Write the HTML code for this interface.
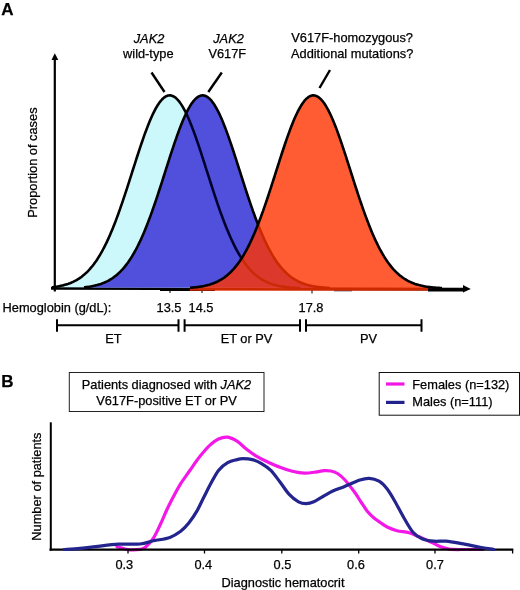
<!DOCTYPE html>
<html><head><meta charset="utf-8"><title>Figure</title>
<style>
html,body{margin:0;padding:0;background:#fff;}
svg{display:block;}
text{font-family:"Liberation Sans",Arial,Helvetica,sans-serif;font-size:12.8px;fill:#000;stroke:#000;stroke-width:0.25px;}
.c{text-anchor:middle;}
.b{font-weight:bold;font-size:17px;}
.i{font-style:italic;}
</style></head>
<body>
<svg width="520" height="590" viewBox="0 0 520 590">
<rect width="520" height="590" fill="#fff"/>
<!-- Panel A -->
<text class="b" x="1.3" y="15.3">A</text>
<!-- axes -->
<line x1="54.8" y1="58" x2="54.8" y2="291.5" stroke="#000" stroke-width="2.2"/>
<polygon points="54.8,53.3 51.5,60 58.3,60" fill="#000"/>
<line x1="51" y1="288.3" x2="464" y2="289.2" stroke="#000" stroke-width="3"/>
<polygon points="470.8,288.9 463,285.1 463,292.600" fill="#000"/>
<text class="c" transform="translate(36.6,162.6) rotate(-90)">Proportion of cases</text>
<!-- curves -->
<path d="M52.0,287.3 L53.0,287.2 L54.0,287.0 L55.0,286.9 L56.0,286.7 L57.0,286.6 L58.0,286.4 L59.0,286.2 L60.0,286.0 L61.0,285.8 L62.0,285.6 L63.0,285.4 L64.0,285.1 L65.0,284.8 L66.0,284.5 L67.0,284.2 L68.0,283.9 L69.0,283.5 L70.0,283.2 L71.0,282.8 L72.0,282.3 L73.0,281.9 L74.0,281.4 L75.0,280.9 L76.0,280.4 L77.0,279.8 L78.0,279.2 L79.0,278.6 L80.0,277.9 L81.0,277.2 L82.0,276.4 L83.0,275.6 L84.0,274.8 L85.0,273.9 L86.0,273.0 L87.0,272.1 L88.0,271.1 L89.0,270.0 L90.0,268.9 L91.0,267.7 L92.0,266.5 L93.0,265.3 L94.0,264.0 L95.0,262.6 L96.0,261.2 L97.0,259.7 L98.0,258.1 L99.0,256.5 L100.0,254.9 L101.0,253.2 L102.0,251.4 L103.0,249.5 L104.0,247.6 L105.0,245.7 L106.0,243.7 L107.0,241.6 L108.0,239.4 L109.0,237.2 L110.0,234.9 L111.0,232.6 L112.0,230.2 L113.0,227.8 L114.0,225.2 L115.0,222.7 L116.0,220.1 L117.0,217.4 L118.0,214.7 L119.0,211.9 L120.0,209.1 L121.0,206.2 L122.0,203.3 L123.0,200.4 L124.0,197.4 L125.0,194.4 L126.0,191.3 L127.0,188.3 L128.0,185.2 L129.0,182.1 L130.0,178.9 L131.0,175.8 L132.0,172.7 L133.0,169.5 L134.0,166.4 L135.0,163.3 L136.0,160.1 L137.0,157.0 L138.0,154.0 L139.0,150.9 L140.0,147.9 L141.0,144.9 L142.0,142.0 L143.0,139.1 L144.0,136.2 L145.0,133.4 L146.0,130.7 L147.0,128.1 L148.0,125.5 L149.0,123.0 L150.0,120.6 L151.0,118.2 L152.0,116.0 L153.0,113.8 L154.0,111.8 L155.0,109.8 L156.0,108.0 L157.0,106.3 L158.0,104.7 L159.0,103.2 L160.0,101.8 L161.0,100.6 L162.0,99.5 L163.0,98.5 L164.0,97.6 L165.0,96.9 L166.0,96.3 L167.0,95.9 L168.0,95.6 L169.0,95.4 L170.0,95.4 L171.0,95.5 L172.0,95.8 L173.0,96.2 L174.0,96.7 L175.0,97.3 L176.0,98.1 L177.0,99.1 L178.0,100.1 L179.0,101.3 L180.0,102.6 L181.0,104.1 L182.0,105.6 L183.0,107.3 L184.0,109.1 L185.0,111.0 L186.0,113.0 L187.0,115.1 L188.0,117.3 L189.0,119.6 L190.0,122.0 L191.0,124.5 L192.0,127.0 L193.0,129.6 L194.0,132.3 L195.0,135.1 L196.0,137.9 L197.0,140.8 L198.0,143.7 L199.0,146.7 L200.0,149.7 L201.0,152.7 L202.0,155.8 L203.0,158.9 L204.0,162.0 L205.0,165.1 L206.0,168.3 L207.0,171.4 L208.0,174.6 L209.0,177.7 L210.0,180.8 L211.0,183.9 L212.0,187.0 L213.0,190.1 L214.0,193.2 L215.0,196.2 L216.0,199.2 L217.0,202.1 L218.0,205.1 L219.0,207.9 L220.0,210.8 L221.0,213.6 L222.0,216.3 L223.0,219.0 L224.0,221.6 L225.0,224.2 L226.0,226.8 L227.0,229.2 L228.0,231.6 L229.0,234.0 L230.0,236.3 L231.0,238.5 L232.0,240.7 L233.0,242.8 L234.0,244.9 L235.0,246.9 L236.0,248.8 L237.0,250.7 L238.0,252.5 L239.0,254.2 L240.0,255.9 L241.0,257.5 L242.0,259.1 L243.0,260.6 L244.0,262.0 L245.0,263.4 L246.0,264.8 L247.0,266.0 L248.0,267.3 L249.0,268.4 L250.0,269.6 L251.0,270.6 L252.0,271.7 L253.0,272.6 L254.0,273.6 L255.0,274.5 L256.0,275.3 L257.0,276.1 L258.0,276.9 L259.0,277.6 L260.0,278.3 L261.0,278.9 L262.0,279.6 L263.0,280.1 L264.0,280.7 L265.0,281.2 L266.0,281.7 L267.0,282.2 L268.0,282.6 L269.0,283.0 L270.0,283.4 L271.0,283.8 L272.0,284.1 L273.0,284.4 L274.0,284.7 L275.0,285.0 L276.0,285.3 L277.0,285.5 L278.0,285.7 L279.0,286.0 L280.0,286.2 L281.0,286.3 L282.0,286.5 L283.0,286.7 L284.0,286.8 L285.0,287.0 L286.0,287.1 L287.0,287.2 L288.0,287.3 L289.0,287.4 L290.0,287.5 L291.0,287.6 L292.0,287.7 L293.0,287.8 L294.0,287.9 L295.0,287.9 L296.0,288.0 L297.0,288.0 L298.0,288.1 L299.0,288.1 L300.0,288.2" fill="#ccf8fc" stroke="#000" stroke-width="2.6" stroke-linejoin="round"/>
<path d="M84.0,287.4 L85.0,287.3 L86.0,287.1 L87.0,287.0 L88.0,286.9 L89.0,286.7 L90.0,286.6 L91.0,286.4 L92.0,286.2 L93.0,286.0 L94.0,285.8 L95.0,285.6 L96.0,285.3 L97.0,285.1 L98.0,284.8 L99.0,284.5 L100.0,284.2 L101.0,283.9 L102.0,283.5 L103.0,283.1 L104.0,282.7 L105.0,282.3 L106.0,281.8 L107.0,281.4 L108.0,280.9 L109.0,280.3 L110.0,279.7 L111.0,279.1 L112.0,278.5 L113.0,277.8 L114.0,277.1 L115.0,276.3 L116.0,275.6 L117.0,274.7 L118.0,273.8 L119.0,272.9 L120.0,272.0 L121.0,270.9 L122.0,269.9 L123.0,268.8 L124.0,267.6 L125.0,266.4 L126.0,265.1 L127.0,263.8 L128.0,262.5 L129.0,261.0 L130.0,259.5 L131.0,258.0 L132.0,256.4 L133.0,254.7 L134.0,253.0 L135.0,251.2 L136.0,249.4 L137.0,247.5 L138.0,245.5 L139.0,243.4 L140.0,241.4 L141.0,239.2 L142.0,237.0 L143.0,234.7 L144.0,232.4 L145.0,230.0 L146.0,227.5 L147.0,225.0 L148.0,222.4 L149.0,219.8 L150.0,217.1 L151.0,214.4 L152.0,211.6 L153.0,208.8 L154.0,205.9 L155.0,203.0 L156.0,200.1 L157.0,197.1 L158.0,194.1 L159.0,191.0 L160.0,188.0 L161.0,184.9 L162.0,181.8 L163.0,178.6 L164.0,175.5 L165.0,172.4 L166.0,169.2 L167.0,166.1 L168.0,163.0 L169.0,159.8 L170.0,156.7 L171.0,153.7 L172.0,150.6 L173.0,147.6 L174.0,144.6 L175.0,141.7 L176.0,138.8 L177.0,135.9 L178.0,133.2 L179.0,130.4 L180.0,127.8 L181.0,125.2 L182.0,122.7 L183.0,120.3 L184.0,118.0 L185.0,115.8 L186.0,113.6 L187.0,111.6 L188.0,109.6 L189.0,107.8 L190.0,106.1 L191.0,104.5 L192.0,103.0 L193.0,101.7 L194.0,100.5 L195.0,99.4 L196.0,98.4 L197.0,97.6 L198.0,96.9 L199.0,96.3 L200.0,95.9 L201.0,95.6 L202.0,95.4 L203.0,95.4 L204.0,95.5 L205.0,95.8 L206.0,96.2 L207.0,96.7 L208.0,97.4 L209.0,98.2 L210.0,99.2 L211.0,100.2 L212.0,101.4 L213.0,102.8 L214.0,104.2 L215.0,105.8 L216.0,107.5 L217.0,109.3 L218.0,111.2 L219.0,113.2 L220.0,115.3 L221.0,117.5 L222.0,119.8 L223.0,122.2 L224.0,124.7 L225.0,127.3 L226.0,129.9 L227.0,132.6 L228.0,135.4 L229.0,138.2 L230.0,141.1 L231.0,144.0 L232.0,147.0 L233.0,150.0 L234.0,153.0 L235.0,156.1 L236.0,159.2 L237.0,162.3 L238.0,165.5 L239.0,168.6 L240.0,171.7 L241.0,174.9 L242.0,178.0 L243.0,181.1 L244.0,184.2 L245.0,187.3 L246.0,190.4 L247.0,193.5 L248.0,196.5 L249.0,199.5 L250.0,202.4 L251.0,205.3 L252.0,208.2 L253.0,211.1 L254.0,213.8 L255.0,216.6 L256.0,219.3 L257.0,221.9 L258.0,224.5 L259.0,227.0 L260.0,229.5 L261.0,231.9 L262.0,234.2 L263.0,236.5 L264.0,238.8 L265.0,240.9 L266.0,243.0 L267.0,245.1 L268.0,247.1 L269.0,249.0 L270.0,250.8 L271.0,252.6 L272.0,254.4 L273.0,256.1 L274.0,257.7 L275.0,259.2 L276.0,260.7 L277.0,262.2 L278.0,263.6 L279.0,264.9 L280.0,266.2 L281.0,267.4 L282.0,268.6 L283.0,269.7 L284.0,270.7 L285.0,271.8 L286.0,272.7 L287.0,273.7 L288.0,274.5 L289.0,275.4 L290.0,276.2 L291.0,276.9 L292.0,277.7 L293.0,278.4 L294.0,279.0 L295.0,279.6 L296.0,280.2 L297.0,280.7 L298.0,281.3 L299.0,281.8 L300.0,282.2 L301.0,282.6 L302.0,283.1 L303.0,283.4 L304.0,283.8 L305.0,284.1 L306.0,284.5 L307.0,284.8 L308.0,285.0 L309.0,285.3 L310.0,285.5 L311.0,285.8 L312.0,286.0 L313.0,286.2 L314.0,286.4 L315.0,286.5 L316.0,286.7 L317.0,286.8 L318.0,287.0 L319.0,287.1 L320.0,287.2 L321.0,287.3 L322.0,287.4 L323.0,287.5 L324.0,287.6 L325.0,287.7 L326.0,287.8 L327.0,287.9 L328.0,287.9 L329.0,288.0 L330.0,288.0" fill="#5050dc" stroke="none"/>
<path d="M186.0,113.0 L187.0,115.1 L188.0,117.3 L189.0,119.6 L190.0,122.0 L191.0,124.5 L192.0,127.0 L193.0,129.6 L194.0,132.3 L195.0,135.1 L196.0,137.9 L197.0,140.8 L198.0,143.7 L199.0,146.7 L200.0,149.7 L201.0,152.7 L202.0,155.8 L203.0,158.9 L204.0,162.0 L205.0,165.1 L206.0,168.3 L207.0,171.4 L208.0,174.6 L209.0,177.7 L210.0,180.8 L211.0,183.9 L212.0,187.0 L213.0,190.1 L214.0,193.2 L215.0,196.2 L216.0,199.2 L217.0,202.1 L218.0,205.1 L219.0,207.9 L220.0,210.8 L221.0,213.6 L222.0,216.3 L223.0,219.0 L224.0,221.6 L225.0,224.2 L226.0,226.8 L227.0,229.2 L228.0,231.6 L229.0,234.0 L230.0,236.3 L231.0,238.5 L232.0,240.7 L233.0,242.8 L234.0,244.9 L235.0,246.9 L236.0,248.8 L237.0,250.7 L238.0,252.5 L239.0,254.2 L240.0,255.9 L241.0,257.5 L242.0,259.1 L243.0,260.6 L244.0,262.0 L245.0,263.4 L246.0,264.8 L247.0,266.0 L248.0,267.3 L249.0,268.4 L250.0,269.6 L251.0,270.6 L252.0,271.7 L253.0,272.6 L254.0,273.6 L255.0,274.5 L256.0,275.3 L257.0,276.1 L258.0,276.9 L259.0,277.6 L260.0,278.3 L261.0,278.9 L262.0,279.6 L263.0,280.1 L264.0,280.7 L265.0,281.2 L266.0,281.7 L267.0,282.2 L268.0,282.6 L269.0,283.0 L270.0,283.4 L271.0,283.8 L272.0,284.1 L273.0,284.4 L274.0,284.7 L275.0,285.0 L276.0,285.3 L277.0,285.5 L278.0,285.7 L279.0,286.0 L280.0,286.2 L281.0,286.3 L282.0,286.5 L283.0,286.7 L284.0,286.8 L285.0,287.0 L286.0,287.1 L287.0,287.2 L288.0,287.3 L289.0,287.4 L290.0,287.5 L291.0,287.6 L292.0,287.7 L293.0,287.8 L294.0,287.9 L295.0,287.9 L296.0,288.0 L297.0,288.0 L298.0,288.1 L299.0,288.1 L300.0,288.2" fill="none" stroke="#00002c" stroke-width="2.6"/>
<path d="M84.0,287.4 L85.0,287.3 L86.0,287.1 L87.0,287.0 L88.0,286.9 L89.0,286.7 L90.0,286.6 L91.0,286.4 L92.0,286.2 L93.0,286.0 L94.0,285.8 L95.0,285.6 L96.0,285.3 L97.0,285.1 L98.0,284.8 L99.0,284.5 L100.0,284.2 L101.0,283.9 L102.0,283.5 L103.0,283.1 L104.0,282.7 L105.0,282.3 L106.0,281.8 L107.0,281.4 L108.0,280.9 L109.0,280.3 L110.0,279.7 L111.0,279.1 L112.0,278.5 L113.0,277.8 L114.0,277.1 L115.0,276.3 L116.0,275.6 L117.0,274.7 L118.0,273.8 L119.0,272.9 L120.0,272.0 L121.0,270.9 L122.0,269.9 L123.0,268.8 L124.0,267.6 L125.0,266.4 L126.0,265.1 L127.0,263.8 L128.0,262.5 L129.0,261.0 L130.0,259.5 L131.0,258.0 L132.0,256.4 L133.0,254.7 L134.0,253.0 L135.0,251.2 L136.0,249.4 L137.0,247.5 L138.0,245.5 L139.0,243.4 L140.0,241.4 L141.0,239.2 L142.0,237.0 L143.0,234.7 L144.0,232.4 L145.0,230.0 L146.0,227.5 L147.0,225.0 L148.0,222.4 L149.0,219.8 L150.0,217.1 L151.0,214.4 L152.0,211.6 L153.0,208.8 L154.0,205.9 L155.0,203.0 L156.0,200.1 L157.0,197.1 L158.0,194.1 L159.0,191.0 L160.0,188.0 L161.0,184.9 L162.0,181.8 L163.0,178.6 L164.0,175.5 L165.0,172.4 L166.0,169.2 L167.0,166.1 L168.0,163.0 L169.0,159.8 L170.0,156.7 L171.0,153.7 L172.0,150.6 L173.0,147.6 L174.0,144.6 L175.0,141.7 L176.0,138.8 L177.0,135.9 L178.0,133.2 L179.0,130.4 L180.0,127.8 L181.0,125.2 L182.0,122.7 L183.0,120.3 L184.0,118.0 L185.0,115.8 L186.0,113.6 L187.0,111.6 L188.0,109.6 L189.0,107.8 L190.0,106.1 L191.0,104.5 L192.0,103.0 L193.0,101.7 L194.0,100.5 L195.0,99.4 L196.0,98.4 L197.0,97.6 L198.0,96.9 L199.0,96.3 L200.0,95.9 L201.0,95.6 L202.0,95.4 L203.0,95.4 L204.0,95.5 L205.0,95.8 L206.0,96.2 L207.0,96.7 L208.0,97.4 L209.0,98.2 L210.0,99.2 L211.0,100.2 L212.0,101.4 L213.0,102.8 L214.0,104.2 L215.0,105.8 L216.0,107.5 L217.0,109.3 L218.0,111.2 L219.0,113.2 L220.0,115.3 L221.0,117.5 L222.0,119.8 L223.0,122.2 L224.0,124.7 L225.0,127.3 L226.0,129.9 L227.0,132.6 L228.0,135.4 L229.0,138.2 L230.0,141.1 L231.0,144.0 L232.0,147.0 L233.0,150.0 L234.0,153.0 L235.0,156.1 L236.0,159.2 L237.0,162.3 L238.0,165.5 L239.0,168.6 L240.0,171.7 L241.0,174.9 L242.0,178.0 L243.0,181.1 L244.0,184.2 L245.0,187.3 L246.0,190.4 L247.0,193.5 L248.0,196.5 L249.0,199.5 L250.0,202.4 L251.0,205.3 L252.0,208.2 L253.0,211.1 L254.0,213.8 L255.0,216.6 L256.0,219.3 L257.0,221.9 L258.0,224.5 L259.0,227.0 L260.0,229.5 L261.0,231.9 L262.0,234.2 L263.0,236.5 L264.0,238.8 L265.0,240.9 L266.0,243.0 L267.0,245.1 L268.0,247.1 L269.0,249.0 L270.0,250.8 L271.0,252.6 L272.0,254.4 L273.0,256.1 L274.0,257.7 L275.0,259.2 L276.0,260.7 L277.0,262.2 L278.0,263.6 L279.0,264.9 L280.0,266.2 L281.0,267.4 L282.0,268.6 L283.0,269.7 L284.0,270.7 L285.0,271.8 L286.0,272.7 L287.0,273.7 L288.0,274.5 L289.0,275.4 L290.0,276.2 L291.0,276.9 L292.0,277.7 L293.0,278.4 L294.0,279.0 L295.0,279.6 L296.0,280.2 L297.0,280.7 L298.0,281.3 L299.0,281.8 L300.0,282.2 L301.0,282.6 L302.0,283.1 L303.0,283.4 L304.0,283.8 L305.0,284.1 L306.0,284.5 L307.0,284.8 L308.0,285.0 L309.0,285.3 L310.0,285.5 L311.0,285.8 L312.0,286.0 L313.0,286.2 L314.0,286.4 L315.0,286.5 L316.0,286.7 L317.0,286.8 L318.0,287.0 L319.0,287.1 L320.0,287.2 L321.0,287.3 L322.0,287.4 L323.0,287.5 L324.0,287.6 L325.0,287.7 L326.0,287.8 L327.0,287.9 L328.0,287.9 L329.0,288.0 L330.0,288.0" fill="none" stroke="#000" stroke-width="2.6" stroke-linejoin="round"/>
<line x1="160" y1="290.5" x2="215" y2="290.5" stroke="#000" stroke-width="1.2"/>
<line x1="170" y1="289" x2="170" y2="293" stroke="#000" stroke-width="1"/>
<line x1="202" y1="289" x2="202" y2="293" stroke="#000" stroke-width="1"/>
<line x1="312" y1="289" x2="312" y2="293.5" stroke="#000" stroke-width="1"/>
<line x1="334" y1="290.8" x2="352" y2="290.8" stroke="#000" stroke-width="0.8"/>
<path d="M190.0,290.8 L190.0,287.8 L191.0,287.7 L192.0,287.6 L193.0,287.5 L194.0,287.4 L195.0,287.3 L196.0,287.2 L197.0,287.1 L198.0,287.0 L199.0,286.8 L200.0,286.7 L201.0,286.5 L202.0,286.4 L203.0,286.2 L204.0,286.0 L205.0,285.8 L206.0,285.5 L207.0,285.3 L208.0,285.0 L209.0,284.8 L210.0,284.5 L211.0,284.1 L212.0,283.8 L213.0,283.4 L214.0,283.1 L215.0,282.6 L216.0,282.2 L217.0,281.8 L218.0,281.3 L219.0,280.7 L220.0,280.2 L221.0,279.6 L222.0,279.0 L223.0,278.4 L224.0,277.7 L225.0,276.9 L226.0,276.2 L227.0,275.4 L228.0,274.5 L229.0,273.7 L230.0,272.7 L231.0,271.8 L232.0,270.7 L233.0,269.7 L234.0,268.6 L235.0,267.4 L236.0,266.2 L237.0,264.9 L238.0,263.6 L239.0,262.2 L240.0,260.7 L241.0,259.2 L242.0,257.7 L243.0,256.1 L244.0,254.4 L245.0,252.6 L246.0,250.8 L247.0,249.0 L248.0,247.1 L249.0,245.1 L250.0,243.0 L251.0,240.9 L252.0,238.8 L253.0,236.5 L254.0,234.2 L255.0,231.9 L256.0,229.5 L257.0,227.0 L258.0,224.5 L259.0,221.9 L260.0,219.3 L261.0,216.6 L262.0,213.8 L263.0,211.1 L264.0,208.2 L265.0,205.3 L266.0,202.4 L267.0,199.5 L268.0,196.5 L269.0,193.5 L270.0,190.4 L271.0,187.3 L272.0,184.2 L273.0,181.1 L274.0,178.0 L275.0,174.9 L276.0,171.7 L277.0,168.6 L278.0,165.5 L279.0,162.3 L280.0,159.2 L281.0,156.1 L282.0,153.0 L283.0,150.0 L284.0,147.0 L285.0,144.0 L286.0,141.1 L287.0,138.2 L288.0,135.4 L289.0,132.6 L290.0,129.9 L291.0,127.3 L292.0,124.7 L293.0,122.2 L294.0,119.8 L295.0,117.5 L296.0,115.3 L297.0,113.2 L298.0,111.2 L299.0,109.3 L300.0,107.5 L301.0,105.8 L302.0,104.2 L303.0,102.8 L304.0,101.4 L305.0,100.2 L306.0,99.2 L307.0,98.2 L308.0,97.4 L309.0,96.7 L310.0,96.2 L311.0,95.8 L312.0,95.5 L313.0,95.4 L314.0,95.4 L315.0,95.6 L316.0,95.9 L317.0,96.3 L318.0,96.9 L319.0,97.6 L320.0,98.4 L321.0,99.4 L322.0,100.5 L323.0,101.7 L324.0,103.0 L325.0,104.5 L326.0,106.1 L327.0,107.8 L328.0,109.6 L329.0,111.6 L330.0,113.6 L331.0,115.8 L332.0,118.0 L333.0,120.3 L334.0,122.7 L335.0,125.2 L336.0,127.8 L337.0,130.4 L338.0,133.2 L339.0,135.9 L340.0,138.8 L341.0,141.7 L342.0,144.6 L343.0,147.6 L344.0,150.6 L345.0,153.7 L346.0,156.7 L347.0,159.8 L348.0,163.0 L349.0,166.1 L350.0,169.2 L351.0,172.4 L352.0,175.5 L353.0,178.6 L354.0,181.8 L355.0,184.9 L356.0,188.0 L357.0,191.0 L358.0,194.1 L359.0,197.1 L360.0,200.1 L361.0,203.0 L362.0,205.9 L363.0,208.8 L364.0,211.6 L365.0,214.4 L366.0,217.1 L367.0,219.8 L368.0,222.4 L369.0,225.0 L370.0,227.5 L371.0,230.0 L372.0,232.4 L373.0,234.7 L374.0,237.0 L375.0,239.2 L376.0,241.4 L377.0,243.4 L378.0,245.5 L379.0,247.5 L380.0,249.4 L381.0,251.2 L382.0,253.0 L383.0,254.7 L384.0,256.4 L385.0,258.0 L386.0,259.5 L387.0,261.0 L388.0,262.5 L389.0,263.8 L390.0,265.1 L391.0,266.4 L392.0,267.6 L393.0,268.8 L394.0,269.9 L395.0,270.9 L396.0,272.0 L397.0,272.9 L398.0,273.8 L399.0,274.7 L400.0,275.6 L401.0,276.3 L402.0,277.1 L403.0,277.8 L404.0,278.5 L405.0,279.1 L406.0,279.7 L407.0,280.3 L408.0,280.9 L409.0,281.4 L410.0,281.8 L411.0,282.3 L412.0,282.7 L413.0,283.1 L414.0,283.5 L415.0,283.9 L416.0,284.2 L417.0,284.5 L418.0,284.8 L419.0,285.1 L420.0,285.3 L421.0,285.6 L422.0,285.8 L423.0,286.0 L424.0,286.2 L425.0,286.4 L426.0,286.6 L427.0,286.7 L428.0,286.9 L429.0,287.0 L430.0,287.1 L431.0,287.3 L432.0,287.4 L433.0,287.5 L434.0,287.6 L435.0,287.6 L436.0,287.7 L437.0,287.8 L438.0,287.9 L439.0,287.9 L440.0,288.0 L441.0,288.0 L442.0,288.1 L442.0,290.8" fill="rgba(255,51,0,0.8)" stroke="none"/>
<path d="M190.0,287.8 L191.0,287.7 L192.0,287.6 L193.0,287.5 L194.0,287.4 L195.0,287.3 L196.0,287.2 L197.0,287.1 L198.0,287.0 L199.0,286.8 L200.0,286.7 L201.0,286.5 L202.0,286.4 L203.0,286.2 L204.0,286.0 L205.0,285.8 L206.0,285.5 L207.0,285.3 L208.0,285.0 L209.0,284.8 L210.0,284.5 L211.0,284.1 L212.0,283.8 L213.0,283.4 L214.0,283.1 L215.0,282.6 L216.0,282.2 L217.0,281.8 L218.0,281.3 L219.0,280.7 L220.0,280.2 L221.0,279.6 L222.0,279.0 L223.0,278.4 L224.0,277.7 L225.0,276.9 L226.0,276.2 L227.0,275.4 L228.0,274.5 L229.0,273.7 L230.0,272.7 L231.0,271.8 L232.0,270.7 L233.0,269.7 L234.0,268.6 L235.0,267.4 L236.0,266.2 L237.0,264.9 L238.0,263.6 L239.0,262.2 L240.0,260.7 L241.0,259.2 L242.0,257.7 L243.0,256.1 L244.0,254.4 L245.0,252.6 L246.0,250.8 L247.0,249.0 L248.0,247.1 L249.0,245.1 L250.0,243.0 L251.0,240.9 L252.0,238.8 L253.0,236.5 L254.0,234.2 L255.0,231.9 L256.0,229.5 L257.0,227.0 L258.0,224.5 L259.0,221.9 L260.0,219.3 L261.0,216.6 L262.0,213.8 L263.0,211.1 L264.0,208.2 L265.0,205.3 L266.0,202.4 L267.0,199.5 L268.0,196.5 L269.0,193.5 L270.0,190.4 L271.0,187.3 L272.0,184.2 L273.0,181.1 L274.0,178.0 L275.0,174.9 L276.0,171.7 L277.0,168.6 L278.0,165.5 L279.0,162.3 L280.0,159.2 L281.0,156.1 L282.0,153.0 L283.0,150.0 L284.0,147.0 L285.0,144.0 L286.0,141.1 L287.0,138.2 L288.0,135.4 L289.0,132.6 L290.0,129.9 L291.0,127.3 L292.0,124.7 L293.0,122.2 L294.0,119.8 L295.0,117.5 L296.0,115.3 L297.0,113.2 L298.0,111.2 L299.0,109.3 L300.0,107.5 L301.0,105.8 L302.0,104.2 L303.0,102.8 L304.0,101.4 L305.0,100.2 L306.0,99.2 L307.0,98.2 L308.0,97.4 L309.0,96.7 L310.0,96.2 L311.0,95.8 L312.0,95.5 L313.0,95.4 L314.0,95.4 L315.0,95.6 L316.0,95.9 L317.0,96.3 L318.0,96.9 L319.0,97.6 L320.0,98.4 L321.0,99.4 L322.0,100.5 L323.0,101.7 L324.0,103.0 L325.0,104.5 L326.0,106.1 L327.0,107.8 L328.0,109.6 L329.0,111.6 L330.0,113.6 L331.0,115.8 L332.0,118.0 L333.0,120.3 L334.0,122.7 L335.0,125.2 L336.0,127.8 L337.0,130.4 L338.0,133.2 L339.0,135.9 L340.0,138.8 L341.0,141.7 L342.0,144.6 L343.0,147.6 L344.0,150.6 L345.0,153.7 L346.0,156.7 L347.0,159.8 L348.0,163.0 L349.0,166.1 L350.0,169.2 L351.0,172.4 L352.0,175.5 L353.0,178.6 L354.0,181.8 L355.0,184.9 L356.0,188.0 L357.0,191.0 L358.0,194.1 L359.0,197.1 L360.0,200.1 L361.0,203.0 L362.0,205.9 L363.0,208.8 L364.0,211.6 L365.0,214.4 L366.0,217.1 L367.0,219.8 L368.0,222.4 L369.0,225.0 L370.0,227.5 L371.0,230.0 L372.0,232.4 L373.0,234.7 L374.0,237.0 L375.0,239.2 L376.0,241.4 L377.0,243.4 L378.0,245.5 L379.0,247.5 L380.0,249.4 L381.0,251.2 L382.0,253.0 L383.0,254.7 L384.0,256.4 L385.0,258.0 L386.0,259.5 L387.0,261.0 L388.0,262.5 L389.0,263.8 L390.0,265.1 L391.0,266.4 L392.0,267.6 L393.0,268.8 L394.0,269.9 L395.0,270.9 L396.0,272.0 L397.0,272.9 L398.0,273.8 L399.0,274.7 L400.0,275.6 L401.0,276.3 L402.0,277.1 L403.0,277.8 L404.0,278.5 L405.0,279.1 L406.0,279.7 L407.0,280.3 L408.0,280.9 L409.0,281.4 L410.0,281.8 L411.0,282.3 L412.0,282.7 L413.0,283.1 L414.0,283.5 L415.0,283.9 L416.0,284.2 L417.0,284.5 L418.0,284.8 L419.0,285.1 L420.0,285.3 L421.0,285.6 L422.0,285.8 L423.0,286.0 L424.0,286.2 L425.0,286.4 L426.0,286.6 L427.0,286.7 L428.0,286.9 L429.0,287.0 L430.0,287.1 L431.0,287.3 L432.0,287.4 L433.0,287.5 L434.0,287.6 L435.0,287.6 L436.0,287.7 L437.0,287.8 L438.0,287.9 L439.0,287.9 L440.0,288.0 L441.0,288.0 L442.0,288.1" fill="none" stroke="#000" stroke-width="2.6" stroke-linejoin="round"/>
<line x1="428" y1="289.8" x2="464" y2="289.8" stroke="#000" stroke-width="3.2"/>
<!-- labels -->
<text class="c i" x="149" y="42.7">JAK2</text>
<text class="c" x="148.3" y="58.3">wild-type</text>
<text class="c i" x="228.5" y="42.700">JAK2</text>
<text class="c" x="227.3" y="58.3">V617F</text>
<text x="291.3" y="42">V617F-homozygous?</text>
<text x="291" y="57.5">Additional mutations?</text>
<line x1="151.5" y1="72.5" x2="164.5" y2="92" stroke="#000" stroke-width="2.4"/>
<line x1="221.8" y1="72.5" x2="208.3" y2="92" stroke="#000" stroke-width="2.4"/>
<line x1="330" y1="70" x2="319.5" y2="88" stroke="#000" stroke-width="2.4"/>
<!-- hemoglobin -->
<text x="2.6" y="311.5">Hemoglobin (g/dL):</text>
<text class="c" x="169" y="311.5">13.5</text>
<text class="c" x="201" y="311.5">14.5</text>
<text class="c" x="311" y="311.5">17.8</text>
<g stroke="#000" stroke-width="2" fill="none">
<path d="M57,325.3H178.5M57,319.3v12.500M178.5,319.3v12.500"/>
<path d="M184.600,325.3H300M184.600,319.3v12.500M300,319.3v12.500"/>
<path d="M306,325.3H421.5M306,319.3v12.500M421.5,319.3v12.500"/>
</g>
<text class="c" x="113.5" y="342.8">ET</text>
<text class="c" x="246.5" y="342.8">ET or PV</text>
<text class="c" x="368.5" y="342.8">PV</text>
<!-- Panel B -->
<text class="b" x="1.3" y="387.3">B</text>
<rect x="69.3" y="372.5" width="194.700" height="39" fill="#fff" stroke="#222" stroke-width="1"/>
<text class="c" x="166.5" y="389">Patients diagnosed with <tspan class="i">JAK2</tspan></text>
<text class="c" x="166.5" y="404.5">V617F-positive ET or PV</text>
<rect x="379.2" y="372.5" width="140.300" height="42.700" fill="#fff" stroke="#111" stroke-width="1"/>
<line x1="386" y1="384" x2="404.5" y2="384" stroke="#f216e6" stroke-width="3.2"/>
<line x1="386" y1="402.4" x2="404.5" y2="402.4" stroke="#22228c" stroke-width="3.2"/>
<text x="412.3" y="388.6">Females (n=132)</text>
<text x="412.3" y="406.2">Males (n=111)</text>
<!-- axes B -->
<path d="M117.0,546.7 C118.8,547.2 123.9,549.2 127.7,549.6 C131.5,550.0 137.1,549.8 140.0,549.4 C142.9,549.0 143.1,549.2 145.4,547.3 C147.7,545.4 151.1,541.6 153.6,537.8 C156.1,534.0 158.2,529.0 160.4,524.3 C162.7,519.5 164.8,514.0 167.1,509.3 C169.3,504.6 171.6,500.1 173.9,495.8 C176.2,491.5 178.0,487.9 180.7,483.6 C183.4,479.3 187.0,474.6 190.2,470.0 C193.4,465.4 196.8,460.3 200.0,456.3 C203.2,452.3 206.1,448.7 209.2,445.8 C212.3,442.9 215.4,440.4 218.5,439.0 C221.6,437.6 224.6,436.8 227.7,437.2 C230.8,437.6 233.9,439.3 237.0,441.2 C240.1,443.1 242.9,446.4 246.0,448.8 C249.1,451.2 251.8,453.4 255.4,455.6 C259.0,457.8 263.6,460.1 267.7,462.0 C271.8,463.9 275.9,465.8 280.0,467.3 C284.1,468.9 288.2,470.3 292.3,471.3 C296.4,472.3 300.5,473.1 304.6,473.2 C308.7,473.3 313.8,472.2 317.0,471.8 C320.2,471.4 321.7,470.7 324.0,470.6 C326.3,470.5 328.8,470.5 331.0,471.0 C333.2,471.5 335.2,472.0 337.5,473.5 C339.8,475.0 342.1,476.8 345.0,480.0 C347.9,483.2 352.3,489.1 355.0,492.8 C357.7,496.5 358.9,498.9 361.0,502.0 C363.1,505.1 365.3,508.8 367.5,511.5 C369.7,514.2 371.9,516.2 374.0,518.0 C376.1,519.8 377.7,520.8 380.0,522.3 C382.3,523.8 384.9,525.9 387.7,527.3 C390.5,528.7 393.4,529.8 397.0,530.7 C400.6,531.6 405.6,531.8 409.2,532.8 C412.8,533.8 414.9,535.0 418.5,536.5 C422.1,538.0 427.2,540.4 430.8,542.0 C434.4,543.6 436.9,545.2 440.0,546.4 C443.1,547.6 445.1,548.7 449.2,549.2 C453.3,549.7 459.0,549.5 464.6,549.5 C470.2,549.5 479.9,549.5 483.0,549.5" fill="none" stroke="#f318e8" stroke-width="3.2" stroke-linecap="round" stroke-linejoin="round"/>
<path d="M50.8,422.3V550.7" stroke="#000" stroke-width="2" fill="none"/>
<path d="M49.5,549.6H513.3" stroke="#000" stroke-width="2.2" fill="none"/>
<g stroke="#000" stroke-width="1.3">
<path d="M128,549.5v4M204.5,549.5v4M281.800,549.5v4M358.700,549.5v4M435,549.5v4M512.600,549.5v4"/>
</g>
<path d="M64.0,549.5 C66.7,549.3 74.8,548.8 80.0,548.3 C85.2,547.8 89.0,547.4 95.4,546.7 C101.8,546.0 111.1,544.7 118.5,544.2 C125.9,543.8 134.2,544.6 140.0,544.0 C145.8,543.4 148.6,541.9 153.6,540.8 C158.6,539.7 165.4,539.0 169.9,537.4 C174.4,535.8 177.5,533.7 180.7,531.3 C183.8,528.9 186.1,526.5 188.8,523.1 C191.5,519.7 194.5,515.2 197.0,510.9 C199.5,506.6 201.6,501.6 203.8,497.3 C206.0,493.0 207.6,489.6 210.0,485.1 C212.4,480.6 215.6,474.1 218.5,470.4 C221.4,466.7 224.6,464.5 227.7,462.7 C230.8,460.9 234.4,460.3 237.0,459.6 C239.6,458.9 240.4,458.7 243.0,458.7 C245.6,458.7 249.2,458.8 252.3,459.6 C255.4,460.4 258.4,461.8 261.5,463.6 C264.6,465.4 267.7,467.3 270.8,470.4 C273.9,473.5 276.9,478.0 280.0,482.0 C283.1,486.0 286.1,491.1 289.2,494.4 C292.3,497.7 295.7,500.3 298.5,501.8 C301.3,503.3 303.4,503.6 306.0,503.6 C308.6,503.6 311.0,503.0 313.8,501.8 C316.6,500.6 319.9,498.2 323.0,496.5 C326.1,494.8 328.7,493.0 332.3,491.3 C335.9,489.6 340.0,488.3 344.6,486.4 C349.2,484.5 355.9,481.3 360.0,480.0 C364.1,478.7 366.0,478.2 369.2,478.4 C372.4,478.6 376.0,479.5 379.0,481.2 C382.0,482.9 384.4,485.5 387.0,488.8 C389.6,492.1 392.0,496.3 394.8,501.2 C397.6,506.1 401.0,512.8 404.0,518.0 C407.0,523.2 410.0,528.8 413.0,532.3 C416.0,535.8 418.5,537.2 422.0,538.7 C425.5,540.2 429.8,540.8 433.8,541.2 C437.8,541.6 441.4,540.8 446.0,541.2 C450.6,541.6 455.8,542.6 461.5,543.6 C467.2,544.6 474.6,546.3 480.0,547.3 C485.4,548.3 491.5,549.1 493.8,549.5" fill="none" stroke="#24248e" stroke-width="3.2" stroke-linecap="round" stroke-linejoin="round"/>
<text class="c" x="124.3" y="568.8">0.3</text>
<text class="c" x="203.3" y="568.8">0.4</text>
<text class="c" x="282.5" y="568.8">0.5</text>
<text class="c" x="356" y="568.8">0.6</text>
<text class="c" x="435" y="568.8">0.7</text>
<text class="c" x="283" y="586.8">Diagnostic hematocrit</text>
<text class="c" transform="translate(41,486.6) rotate(-90)">Number of patients</text>
</svg>
</body></html>
